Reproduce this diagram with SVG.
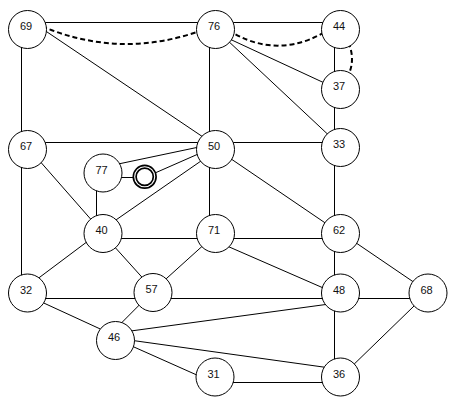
<svg xmlns="http://www.w3.org/2000/svg" width="455" height="407" viewBox="0 0 455 407">
<style>
.e{stroke:#000;stroke-width:1;fill:none}
.d{stroke:#000;stroke-width:2;stroke-dasharray:5 3;fill:none}
.n circle{fill:#fff;stroke:#000;stroke-width:1}
.n text{font-family:"Liberation Sans",Arial,sans-serif;font-size:11px;text-anchor:middle;fill:#111}
.ring{fill:#fff;stroke:#000;stroke-width:1.7}
</style>
<rect width="455" height="407" fill="#fff"/>
<g id="connectors">
<line class="e" x1="27.5" y1="22.5" x2="215.5" y2="22.5"/>
<line class="e" x1="215.5" y1="22.5" x2="340.5" y2="22.5"/>
<line class="e" x1="27.5" y1="142.5" x2="215.5" y2="142.5"/>
<line class="e" x1="215.5" y1="142.5" x2="340.5" y2="142.5"/>
<line class="e" x1="103" y1="238.5" x2="215.5" y2="238.5"/>
<line class="e" x1="215.5" y1="238.5" x2="340.5" y2="238.5"/>
<line class="e" x1="27.5" y1="298.5" x2="153" y2="298.5"/>
<line class="e" x1="153" y1="298.5" x2="340.5" y2="298.5"/>
<line class="e" x1="340.5" y1="298.5" x2="428" y2="298.5"/>
<line class="e" x1="215" y1="382.5" x2="340.5" y2="382.5"/>
<line class="e" x1="110" y1="177.5" x2="140" y2="177.5"/>
<line class="e" x1="21.5" y1="29.5" x2="21.5" y2="149.5"/>
<line class="e" x1="21.5" y1="149.5" x2="21.5" y2="293"/>
<line class="e" x1="209.5" y1="29.5" x2="209.5" y2="149.5"/>
<line class="e" x1="209.5" y1="149.5" x2="209.5" y2="233.5"/>
<line class="e" x1="334.5" y1="29.5" x2="334.5" y2="89.5"/>
<line class="e" x1="334.5" y1="89.5" x2="334.5" y2="147.5"/>
<line class="e" x1="334.5" y1="147.5" x2="334.5" y2="233.5"/>
<line class="e" x1="334.5" y1="233.5" x2="334.5" y2="293"/>
<line class="e" x1="334.5" y1="293" x2="334.5" y2="377"/>
<line class="e" x1="96.5" y1="173" x2="96.5" y2="233.5"/>
<line class="e" x1="43.4" y1="29.5" x2="203.3" y2="137.2"/>
<line class="e" x1="228.1" y1="38.3" x2="325.3" y2="83.4"/>
<line class="e" x1="227.1" y1="40" x2="329.6" y2="136"/>
<line class="e" x1="39.1" y1="160.3" x2="92.6" y2="221.3"/>
<line class="e" x1="117.8" y1="164.1" x2="200.6" y2="146.7"/>
<line class="e" x1="150" y1="175.2" x2="201.9" y2="152.4"/>
<line class="e" x1="115" y1="220.6" x2="203.3" y2="159.4"/>
<line class="e" x1="228.4" y1="157.1" x2="326.6" y2="223.9"/>
<line class="e" x1="88.2" y1="240.9" x2="35.1" y2="280.7"/>
<line class="e" x1="112.3" y1="244.3" x2="142.7" y2="278"/>
<line class="e" x1="204.7" y1="244" x2="163.7" y2="281"/>
<line class="e" x1="226.3" y1="245.7" x2="325.4" y2="288.9"/>
<line class="e" x1="353.4" y1="241.1" x2="415" y2="283"/>
<line class="e" x1="40.7" y1="301.6" x2="100.3" y2="329"/>
<line class="e" x1="141.1" y1="303.2" x2="118.9" y2="325.5"/>
<line class="e" x1="129.3" y1="331.2" x2="325.7" y2="304.5"/>
<line class="e" x1="129.3" y1="340" x2="326.7" y2="367.5"/>
<line class="e" x1="129.7" y1="345.1" x2="200.4" y2="376.6"/>
<line class="e" x1="416.2" y1="303.9" x2="352.1" y2="366.1"/>
<path class="d" d="M27.5,19.9 Q121.4,65.5 215.3,24.8"/>
<path class="d" d="M215.3,21.3 Q278,70 340.8,21.2"/>
<path class="d" d="M339.6,29 Q364.4,59 339.6,89"/>
</g>
<g id="n69" class="n"><circle cx="27.5" cy="29.5" r="19"/><text x="26" y="30">69</text></g>
<g id="n76" class="n"><circle cx="215.5" cy="29.5" r="19"/><text x="214" y="30">76</text></g>
<g id="n44" class="n"><circle cx="340.5" cy="29.5" r="19"/><text x="339" y="30">44</text></g>
<g id="n37" class="n"><circle cx="340.5" cy="89.5" r="19"/><text x="339" y="90">37</text></g>
<g id="n67" class="n"><circle cx="27.5" cy="149.5" r="19"/><text x="26" y="150">67</text></g>
<g id="n50" class="n"><circle cx="215.5" cy="149.5" r="19"/><text x="214" y="150">50</text></g>
<g id="n33" class="n"><circle cx="340.5" cy="147.5" r="19"/><text x="339" y="148">33</text></g>
<g id="n77" class="n"><circle cx="103" cy="173" r="19"/><text x="101.5" y="173.5">77</text></g>
<g id="n40" class="n"><circle cx="103" cy="233.5" r="19"/><text x="101.5" y="234">40</text></g>
<g id="n71" class="n"><circle cx="215.5" cy="233.5" r="19"/><text x="214" y="234">71</text></g>
<g id="n62" class="n"><circle cx="340.5" cy="233.5" r="19"/><text x="339" y="234">62</text></g>
<g id="n32" class="n"><circle cx="27.5" cy="293" r="19"/><text x="26" y="293.5">32</text></g>
<g id="n57" class="n"><circle cx="153" cy="292.5" r="19"/><text x="151.5" y="293">57</text></g>
<g id="n48" class="n"><circle cx="340.5" cy="293" r="19"/><text x="339" y="293.5">48</text></g>
<g id="n68" class="n"><circle cx="428" cy="293" r="19"/><text x="426.5" y="293.5">68</text></g>
<g id="n46" class="n"><circle cx="115.5" cy="340.5" r="19"/><text x="114" y="341">46</text></g>
<g id="n31" class="n"><circle cx="215" cy="377" r="19"/><text x="213.5" y="377.5">31</text></g>
<g id="n36" class="n"><circle cx="340.5" cy="377" r="19"/><text x="339" y="377.5">36</text></g>
<g id="ring"><circle class="ring" cx="144.7" cy="176.8" r="11.4"/><circle class="ring" cx="144.7" cy="176.8" r="8.6"/></g>
</svg>
